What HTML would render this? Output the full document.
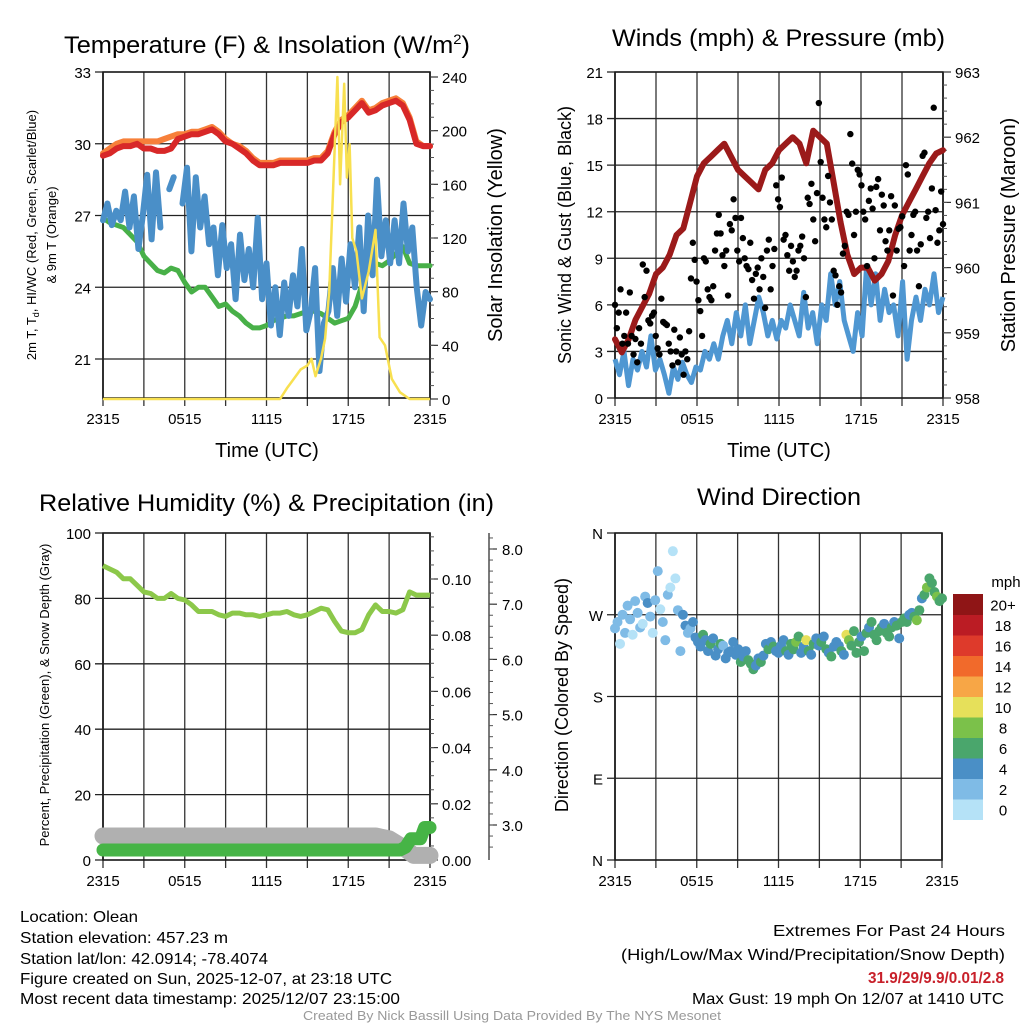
<!DOCTYPE html>
<html><head><meta charset="utf-8"><title>Olean Mesonet Meteogram</title>
<style>
html,body{margin:0;padding:0;background:#fff;}
svg{display:block;font-family:"Liberation Sans",Arial,sans-serif;}
</style></head>
<body>
<svg id="fig" width="1024" height="1024" viewBox="0 0 1024 1024">
<rect x="0" y="0" width="1024" height="1024" fill="#fff"/>
<text x="64" y="53" font-size="24" textLength="406" lengthAdjust="spacingAndGlyphs">Temperature (F) &amp; Insolation (W/m<tspan font-size="14" dy="-9">2</tspan><tspan dy="9">)</tspan></text>
<text x="612" y="46" font-size="24" textLength="333" lengthAdjust="spacingAndGlyphs">Winds (mph) &amp; Pressure (mb)</text>
<text x="39" y="511" font-size="24" textLength="455" lengthAdjust="spacingAndGlyphs">Relative Humidity (%) &amp; Precipitation (in)</text>
<text x="697" y="505" font-size="24" textLength="164" lengthAdjust="spacingAndGlyphs">Wind Direction</text>
<g id="layer"></g>
<g font-size="16">
<text x="20" y="922" textLength="118" lengthAdjust="spacingAndGlyphs">Location: Olean</text>
<text x="20" y="943" textLength="208" lengthAdjust="spacingAndGlyphs">Station elevation: 457.23 m</text>
<text x="20" y="964" textLength="248" lengthAdjust="spacingAndGlyphs">Station lat/lon: 42.0914; -78.4074</text>
<text x="20" y="984" textLength="372" lengthAdjust="spacingAndGlyphs">Figure created on Sun, 2025-12-07, at 23:18 UTC</text>
<text x="20" y="1004" textLength="380" lengthAdjust="spacingAndGlyphs">Most recent data timestamp: 2025/12/07 23:15:00</text>
</g>
<g font-size="16">
<text x="773" y="936" textLength="232" lengthAdjust="spacingAndGlyphs">Extremes For Past 24 Hours</text>
<text x="621" y="960" textLength="384" lengthAdjust="spacingAndGlyphs">(High/Low/Max Wind/Precipitation/Snow Depth)</text>
<text x="868" y="983" textLength="136" lengthAdjust="spacingAndGlyphs" fill="#c8202a" font-weight="bold">31.9/29/9.9/0.01/2.8</text>
<text x="692" y="1004" textLength="312" lengthAdjust="spacingAndGlyphs">Max Gust: 19 mph On 12/07 at 1410 UTC</text>
</g>
<text x="303" y="1020" font-size="13" textLength="418" lengthAdjust="spacingAndGlyphs" fill="#999">Created By Nick Bassill Using Data Provided By The NYS Mesonet</text>
</svg>
<script>
// ---------- DATA ----------
const timeTicks = ["2315","0515","1115","1715","2315"];
const tempRed = [29.5,29.6,29.8,29.9,29.9,30.0,29.8,29.8,29.7,29.7,29.8,30.2,30.3,30.4,30.4,30.5,30.6,30.4,30.1,30.0,29.8,29.6,29.3,29.1,29.1,29.1,29.2,29.2,29.2,29.2,29.2,29.3,29.3,29.6,30.4,30.9,31.1,31.4,31.7,31.3,31.4,31.6,31.7,31.8,31.6,31.0,30.0,29.9,29.9];
const tempOrange = [29.6,29.8,30.0,30.1,30.1,30.1,30.1,30.1,30.1,30.2,30.3,30.4,30.4,30.5,30.5,30.6,30.7,30.5,30.2,30.0,29.9,29.7,29.4,29.2,29.2,29.2,29.3,29.3,29.3,29.3,29.3,29.4,29.4,29.7,30.5,31.0,31.2,31.5,31.8,31.4,31.5,31.7,31.8,31.9,31.7,31.1,30.1,29.9,29.9];
const dewGreen = [26.9,26.7,26.6,26.5,26.2,25.9,25.3,25.0,24.7,24.6,24.8,24.7,24.2,23.8,24.0,24.0,23.6,23.2,23.3,23.0,22.8,22.5,22.3,22.3,22.4,22.6,22.7,22.8,22.8,22.9,23.0,23.0,22.9,22.7,22.5,22.6,22.7,23.2,24.1,25.0,25.0,24.9,25.1,25.4,25.7,25.0,24.9,24.9,24.9];
const windChill = [26.8,27.5,26.6,27.2,26.8,28.0,26.5,27.8,25.6,27.0,28.7,26.0,28.8,26.5,null,28.1,28.6,null,27.5,29.0,25.5,28.6,26.5,27.8,25.8,26.5,24.5,26.6,24.8,25.8,23.5,26.2,24.3,25.6,24.0,26.9,23.5,25.0,22.4,24.0,22.0,24.2,22.8,24.5,23.2,25.6,22.2,23.0,24.8,20.5,22.5,23.0,24.8,22.8,25.2,23.4,25.8,24.0,26.5,23.0,27.0,24.5,28.5,25.3,26.8,25.0,26.8,25.0,27.5,25.5,26.5,24.0,22.4,23.8,23.5];
const solarHours = [0,13,13.5,14,14.5,15,15.3,15.6,16,16.3,16.6,16.9,17.2,17.4,17.7,17.9,18.1,18.3,18.6,19.0,19.5,20.0,20.3,20.7,21.2,21.8,22.5,24];
const solarVals = [0,0,8,15,22,25,30,17,30,45,80,160,240,160,235,165,190,120,110,75,95,126,46,40,15,5,0,0];
const windTicks = [0,3,6,9,12,15,18,21];
const pressTicks = [958,959,960,961,962,963];
const windSpeed = [2.5,1.5,3,0.8,2.5,1.8,3,2,4,1.8,2.5,1.5,0.3,2,1.2,2.3,1.5,1,2,1.8,3,2.5,3.5,2.5,4,5,3.5,5.5,4,6,3.5,5,6.5,5.5,4,5,3.8,5,4.5,6,5,4,6.8,4.5,5.5,3.5,6,5,8,6,7.5,5,4,3,5.5,4,8.5,6,8,5,7,5.5,6,4,7.5,2.5,5,6.5,5,7,6,8,5.5,6.5];
const pressure = [958.9,958.7,958.9,959.2,959.4,959.6,959.9,960.0,960.2,960.5,960.6,961.0,961.4,961.6,961.7,961.8,961.9,961.7,961.5,961.4,961.3,961.2,961.5,961.6,961.8,961.9,962.0,961.9,961.6,962.1,962.0,961.9,961.3,960.7,960.2,959.9,960.0,960.0,959.8,959.9,960.1,960.5,960.8,961.0,961.2,961.4,961.6,961.75,961.8];
const gusts = [6,4.5,5.5,7,3.5,4,5.5,3.5,6.8,4,2.8,3.8,2.3,4.5,3.5,8.6,6.5,8.2,5,4.8,5.3,5.5,4,3.2,2.8,6.4,4.9,4.8,4.7,3.5,3,2.1,4.4,3,2.3,3.9,2.8,1.5,3,2.5,4.3,7.7,10,8.9,7.5,6.3,5.6,4,
9,8.8,7,6.5,6.3,7.2,9.5,10.6,11.8,10.6,9.2,8.5,9.5,6.6,11.2,10.8,12.8,11.6,9.5,8.8,11.6,10.3,9,8.5,8.3,10,7.6,6.4,8,8.4,7,9,7.8,5.8,9.5,10.2,7,8.5,9.6,13.7,12.8,12.3,14.2,
10.2,10.5,9.2,8.2,9.8,8.8,7.8,8.2,9.5,9.8,10.4,9,6.5,12.9,12.5,13.8,11.5,10.1,13.2,19,15.2,12.9,11.5,11,14.3,12.6,11.5,8.2,7.9,6,7.2,6.8,9.3,9.8,12,11.8,17,15.1,10.5,12,
14.7,14.4,13.7,12,11.5,8.5,12.7,13.5,12.2,9,13.6,14.1,10.8,13.1,12.4,10.1,9.5,10.8,13,6.6,12.4,9.5,10.9,11,11.7,8.5,15,14.4,9.5,10.5,11.8,12,9.5,7.2,9.9,15.6,15.8,11.6,12,10.3,13.5,18.7,12.1,10,10.8,13.3,11.2];
const rhTicks = [0,20,40,60,80,100];
const precipTicks = ["0.00","0.02","0.04","0.06","0.08","0.10"];
const snowTicks = ["3.0","4.0","5.0","6.0","7.0","8.0"];
const rh = [90,89,88,86,86,84,82,81.5,80,80,81.5,80,79.5,78,76,76,76,75,74.5,75.5,75.5,75,75,74.5,75,75.5,75.5,76,75,74.5,75,76,77,76.5,73,70,69.5,69.5,70.5,75,78,76,76,75.5,76.5,82,81,81,81];
const precipHours = [0,21.8,22.2,22.6,23.3,23.6,24];
const precipVals = [0,0,0.001,0.004,0.004,0.008,0.008];
const snowHours = [0,20,21,22,22.8,24];
const snowVals = [2.8,2.8,2.75,2.6,2.45,2.45];
const dirTicks = ["N","E","S","W","N"];
const windDir = [255,262,238,270,250,280,265,248,285,272,256,260,290,283,268,250,286,318,276,262,242,292,300,340,310,275,230,
270,258,250,255,262,245,240,235,248,242,230,238,244,225,232,238,236,222,228,230,240,226,232,218,224,230,220,216,210,214,222,218,225,
238,232,240,235,230,228,236,242,230,226,238,232,240,246,228,235,242,230,226,238,244,236,240,246,232,228,224,235,240,236,230,226,248,
242,236,252,228,240,246,230,250,256,262,248,242,252,256,260,250,246,256,262,258,244,262,266,262,270,272,268,264,275,288,292,300,310,305,295,290,285,288];
const dirSpeed = [2,2,1,2,2,3,2,1,3,2,2,1,3,4,2,1,3,3,1,2,2,2,1,0,1,2,2,
4,4,3,3,4,5,4,4,6,4,4,6,4,4,4,6,3,4,4,5,4,5,4,6,4,5,6,6,6,5,4,6,4,
4,7,4,6,4,4,4,4,6,4,6,7,8,6,4,5,10,6,4,6,4,4,6,4,6,4,7,4,4,4,6,4,10,
8,6,6,7,6,4,7,6,4,6,6,6,7,6,4,6,6,6,4,6,4,6,6,6,4,4,6,8,6,4,6,8,7,6,7,8,7,6];
const speedLabels = ["0","2","4","6","8","10","12","14","16","18","20+"];
const speedColors = ["#b5e2f7","#7fbbe6","#4a8fc6","#4aa66c","#7bc14a","#e6e05a","#f7a646","#f16a2b","#de3a2b","#bb1c24","#8f1516"];

// ---------- HELPERS ----------
const NS="http://www.w3.org/2000/svg";
const layer=document.getElementById('layer');
function mk(tag,attrs,parent){const e=document.createElementNS(NS,tag);for(const k in attrs)e.setAttribute(k,attrs[k]);(parent||layer).appendChild(e);return e;}
function lin(d0,d1,r0,r1){return v=>r0+(v-d0)*(r1-r0)/(d1-d0);}
function pathFrom(vals,xf,yf,hours){let d="",pen=false;const n=vals.length;
 for(let i=0;i<n;i++){const v=vals[i];if(v===null){pen=false;continue;}
  const h=hours?hours[i]:i*24/(n-1);d+=(pen?"L":"M")+xf(h).toFixed(1)+","+yf(v).toFixed(1);pen=true;}return d;}

function frame(p,name){
 for(let h=0;h<=24;h+=3){const x=p.x(h);
  const g=mk('line',{x1:x,y1:p.top,x2:x,y2:p.bot,stroke:"#333","stroke-width":1.3});
  
  
  const t=mk('line',{x1:x,y1:p.bot,x2:x,y2:p.bot+8,stroke:"#333","stroke-width":1.3});
  
  }
 timeTicks.forEach((lab,i)=>{const t=mk('text',{x:p.x(i*6),y:p.bot+26,"font-size":15,"text-anchor":"middle"});t.textContent=lab;
  
  });
 const fr=mk('rect',{x:p.x(0),y:p.top,width:p.x(24)-p.x(0),height:p.bot-p.top,fill:"none",stroke:"#000","stroke-width":1.5});
 
 
}
function hgrid(p,name,vals,yf,labels,gridOn){
 vals.forEach((v,i)=>{const y=yf(v);
  if(gridOn){const g=mk('line',{x1:p.x(0)-8,y1:y,x2:p.x(24),y2:y,stroke:"#222","stroke-width":1.3});
   
   }
  const t=mk('text',{x:p.x(0)-12,y:y+6,"font-size":15,"text-anchor":"end"});t.textContent=labels[i];
  
  });
}
function rightAxis(x,vals,yf,labels,name,minorVals,dx){
 vals.forEach((v,i)=>{const y=yf(v);
  const tk=mk('line',{x1:x,y1:y,x2:x+8,y2:y,stroke:"#333","stroke-width":1.2});
  
  
  const t=mk('text',{x:x+(dx||12),y:y+6,"font-size":15});t.textContent=labels[i];
  
  });
 (minorVals||[]).forEach(v=>{const y=yf(v);
  const m=mk('line',{x1:x,y1:y,x2:x+4,y2:y,stroke:"#555","stroke-width":1});
  
  });
}
function vlabel(x,y,txt,size,name){const t=mk('text',{x:x,y:y,"font-size":size,"text-anchor":"middle",transform:`rotate(-90 ${x} ${y})`});t.textContent=txt;
 
 return t;}
function range(a,b,s){const r=[];for(let v=a;v<=b+1e-9;v+=s)r.push(+v.toFixed(4));return r;}

// ---------- PANEL 1: Temperature ----------
(function(){
 const p={x:lin(0,24,103,430),top:72,bot:398};
 const yT=lin(33,21,72,359), yS=lin(0,240,399,77);
 frame(p,'temp');
 hgrid(p,'temp',[33,30,27,24,21],yT,["33","30","27","24","21"],true);
 rightAxis(430,[0,40,80,120,160,200,240],yS,["0","40","80","120","160","200","240"],'solar-axis',range(10,230,10));
 const series=[[tempOrange,"#f7803a",6,'temp-9m-line'],[tempRed,"#d82828",6,'temp-2m-line'],[dewGreen,"#48b048",5,'dewpoint-line'],[windChill,"#4a8fc8",6,'windchill-line']];
 series.forEach(s=>{const l=mk('path',{d:pathFrom(s[0],p.x,yT),fill:"none",stroke:s[1],"stroke-width":s[2],"stroke-linejoin":"round","stroke-linecap":"round"});
  
  });
 const sol=mk('path',{d:pathFrom(solarVals,p.x,yS,solarHours),fill:"none",stroke:"#f8e050","stroke-width":2.5,"stroke-linejoin":"round"});
 
 
 const t1=mk('text',{x:36,y:235,"font-size":13,"text-anchor":"middle",transform:"rotate(-90 36 235)"});
 t1.innerHTML='2m T, T<tspan font-size="9" dy="3">d</tspan><tspan dy="-3">, HI/WC (Red, Green, Scarlet/Blue)</tspan>';
 
 
 vlabel(56,235,"& 9m T (Orange)",13,'temp-y-axis-title-2');
 vlabel(502,235,"Solar Insolation (Yellow)",20,'solar-y-axis-title');
 const tl=mk('text',{x:267,y:457,"font-size":20,"text-anchor":"middle"});tl.textContent="Time (UTC)";
 
 
})();

// ---------- PANEL 2: Winds ----------
(function(){
 const p={x:lin(0,24,615,943),top:72,bot:398};
 const yW=lin(0,21,398,72), yP=lin(958,963,398,72);
 frame(p,'wind');
 hgrid(p,'wind',windTicks,yW,windTicks.map(String),true);
 rightAxis(943,pressTicks,yP,pressTicks.map(String),'pressure-axis',range(958.2,962.8,0.2));
 const wl=mk('path',{d:pathFrom(windSpeed,p.x,yW),fill:"none",stroke:"#4f97d2","stroke-width":5,"stroke-linejoin":"round"});
 
 
 const pl=mk('path',{d:pathFrom(pressure,p.x,yP),fill:"none",stroke:"#9b1a1a","stroke-width":6,"stroke-linejoin":"round","stroke-linecap":"round"});
 
 
 const n=gusts.length;
 gusts.forEach((g,i)=>{const c=mk('circle',{cx:p.x(i*24/(n-1)),cy:yW(g),r:3.2,fill:"#000"});
  
  });
 vlabel(571,235,"Sonic Wind & Gust (Blue, Black)",18,'wind-y-axis-title');
 vlabel(1015,235,"Station Pressure (Maroon)",20,'pressure-y-axis-title');
 const tl=mk('text',{x:779,y:457,"font-size":20,"text-anchor":"middle"});tl.textContent="Time (UTC)";
 
 
})();

// ---------- PANEL 3: RH ----------
(function(){
 const p={x:lin(0,24,103,430),top:533,bot:860};
 const yR=lin(0,100,860,533), yPr=lin(0,0.1,860,579), ySn=lin(3,8,825,549);
 frame(p,'rh');
 hgrid(p,'rh',rhTicks,yR,rhTicks.map(String),true);
 rightAxis(430,[0,0.02,0.04,0.06,0.08,0.1],yPr,precipTicks,'precip-axis',range(0.005,0.115,0.005));
 const ax=mk('line',{x1:489,y1:533,x2:489,y2:860,stroke:"#333","stroke-width":1.3});
 
 
 rightAxis(489,[3,4,5,6,7,8],ySn,snowTicks,'snow-axis',range(2.6,8.2,0.2),13);
 const sn=mk('path',{d:pathFrom(snowVals,p.x,ySn,snowHours),fill:"none",stroke:"#b0b0b0","stroke-width":17,"stroke-linejoin":"round","stroke-linecap":"round"});
 
 
 const pr=mk('path',{d:pathFrom(precipVals,p.x,v=>yPr(v)-10,precipHours),fill:"none",stroke:"#46b446","stroke-width":13,"stroke-linejoin":"round","stroke-linecap":"round"});
 
 
 const rl=mk('path',{d:pathFrom(rh,p.x,yR),fill:"none",stroke:"#8cc84a","stroke-width":5,"stroke-linejoin":"round"});
 
 
 vlabel(49,695,"Percent, Precipitation (Green), & Snow Depth (Gray)",13,'rh-y-axis-title');
})();

// ---------- PANEL 4: Wind direction ----------
(function(){
 const p={x:lin(0,24,615,942),top:533,bot:860};
 const yD=lin(0,360,860,533);
 frame(p,'dir');
 hgrid(p,'dir',[0,90,180,270,360],yD,dirTicks,true);
 const n=windDir.length;
 windDir.forEach((d,i)=>{const idx=Math.min(10,Math.floor(dirSpeed[i]/2));
  const c=mk('circle',{cx:p.x(i*24/(n-1)),cy:yD(d),r:5,fill:speedColors[idx]});
  
  });
 vlabel(568,695,"Direction (Colored By Speed)",18,'direction-y-axis-title');
 const top=594,h=20.5;
 speedColors.forEach((col,i)=>{const y=top+(10-i)*h;
  const r=mk('rect',{x:953,y:y,width:30,height:h+0.5,fill:col});
  
  
  const t=mk('text',{x:1003,y:y+h/2+6,"font-size":15,"text-anchor":"middle"});t.textContent=speedLabels[i];
  
  });
 const u=mk('text',{x:1006,y:587,"font-size":15,"text-anchor":"middle"});u.textContent="mph";
 
 
})();
</script>
</body></html>
